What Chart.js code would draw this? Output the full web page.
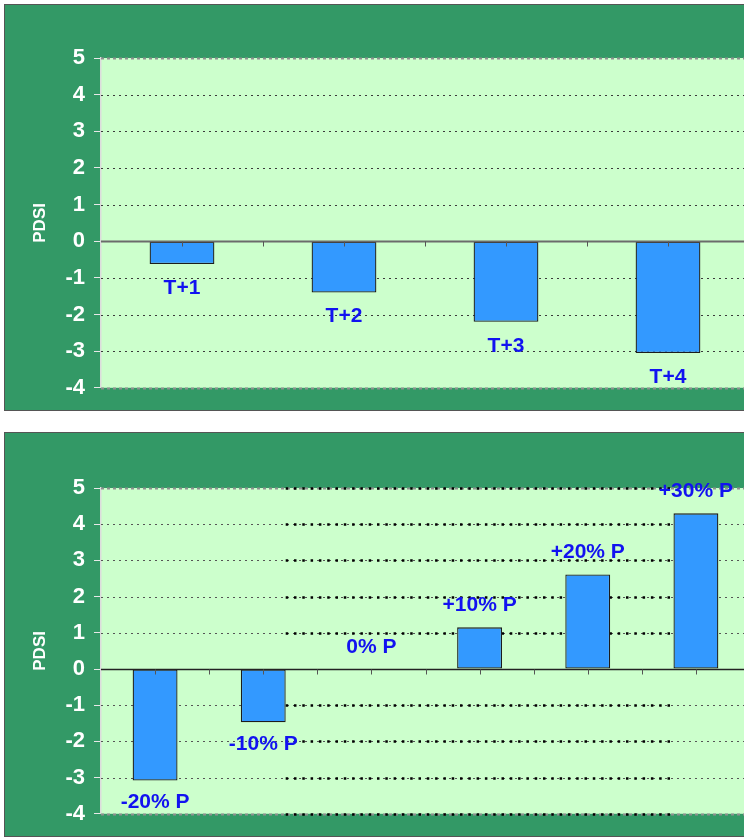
<!DOCTYPE html>
<html>
<head>
<meta charset="utf-8">
<script src="https://cdn.jsdelivr.net/npm/chart.js@4"></script>
<style>
    body { margin: 0; width: 744px; height: 837px; overflow: hidden; background: #fff; }
    .panel { position: absolute; left: 4px; width: 800px; box-sizing: border-box; border: 1px solid #555; background: #339966; }
    #panel1 { top: 4px; height: 407px; }
    #panel2 { top: 432px; height: 405px; }
    .panel canvas { position: absolute; left: 0; top: 0; }
</style>
</head>
<body>
<div class="panel" id="panel1"><canvas id="lagChart" width="760" height="405"></canvas></div>
<div class="panel" id="panel2"><canvas id="precipChart" width="760" height="403"></canvas></div>
<script>
    // --- data ---
    const lagLabels = ['T+1', 'T+2', 'T+3', 'T+4'];
    const lagValues = [-0.62, -1.4, -2.2, -3.05];

    const precipLabels = ['-20% P', '-10% P', '0% P', '+10% P', '+20% P', '+30% P'];
    const precipValues = [-3.08, -1.47, 0, 1.15, 2.61, 4.3];

    const yMin = -4;
    const yMax = 5;
    const yStep = 1;
    const axisTitle = 'PDSI';

    const FONT = "'Liberation Sans', Arial, sans-serif";

    // plot background, dotted grid, zero line, small x ticks and bar captions
    const decor = {
        id: 'decor',
        beforeDraw(chart) {
            const { ctx, chartArea: a } = chart;
            ctx.save();
            ctx.fillStyle = '#ccffcc';
            ctx.fillRect(a.left, a.top, a.right - a.left, a.bottom - a.top);
            ctx.restore();
        },
        beforeDatasetsDraw(chart, args, opts) {
            const { ctx, chartArea: a } = chart;
            const y = chart.scales.y;
            const meta = chart.getDatasetMeta(0);
            ctx.save();
            y.ticks.forEach(t => {
                if (t.value === 0) return;
                const py = Math.round(y.getPixelForValue(t.value)) + 0.5;
                const edge = t.value === yMax || t.value === yMin;
                ctx.beginPath();
                ctx.strokeStyle = edge ? '#8f8f8f' : opts.gridColor;
                ctx.lineWidth = edge ? 2 : 1;
                ctx.setLineDash(edge ? [3, 3] : [2, 4]);
                ctx.moveTo(a.left, py);
                ctx.lineTo(a.right, py);
                ctx.stroke();
                if (opts.heavy) {
                    const b1 = meta.data[opts.heavy[0]];
                    const b2 = meta.data[opts.heavy[1]];
                    ctx.beginPath();
                    ctx.strokeStyle = '#000';
                    ctx.lineWidth = 2.5;
                    ctx.setLineDash([2.5, 5.8]);
                    ctx.moveTo(b1.x + b1.width / 2, py);
                    ctx.lineTo(b2.x - b2.width / 2, py);
                    ctx.stroke();
                }
            });
            ctx.restore();
        },
        afterDatasetsDraw(chart, args, opts) {
            const { ctx, chartArea: a } = chart;
            const x = chart.scales.x;
            const y = chart.scales.y;
            const y0 = Math.round(y.getPixelForValue(0)) + 0.5;

            ctx.save();
            ctx.beginPath();
            ctx.strokeStyle = opts.zeroColor;
            ctx.lineWidth = opts.zeroWidth;
            ctx.moveTo(a.left, y0);
            ctx.lineTo(a.right, y0);
            ctx.stroke();

            // tick marks at category centres and boundaries
            const n = chart.data.labels.length;
            const half = (x.getPixelForValue(1) - x.getPixelForValue(0)) / 2;
            ctx.strokeStyle = '#555';
            ctx.lineWidth = 1;
            for (let i = 0; i < n; i++) {
                const c = x.getPixelForValue(i);
                [c, c + half].forEach(px => {
                    const xx = Math.round(px) + 0.5;
                    ctx.beginPath();
                    ctx.moveTo(xx, y0);
                    ctx.lineTo(xx, y0 + 5);
                    ctx.stroke();
                });
            }

            // captions under negative bars, above the rest
            const ds = chart.data.datasets[0];
            ctx.fillStyle = '#1212f0';
            ctx.font = 'bold 21px ' + FONT;
            ctx.textAlign = 'center';
            ctx.textBaseline = 'middle';
            chart.data.labels.forEach((label, i) => {
                const v = ds.data[i];
                const py = y.getPixelForValue(v);
                const ty = v < 0 ? py + opts.offset : py - opts.offset;
                ctx.fillText(label, x.getPixelForValue(i), ty);
            });
            ctx.restore();
        },
        afterDraw(chart) {
            const { ctx, chartArea: a } = chart;
            ctx.save();
            ctx.translate(35, (a.top + a.bottom) / 2);
            ctx.rotate(-Math.PI / 2);
            ctx.fillStyle = '#fff';
            ctx.font = 'bold 17px ' + FONT;
            ctx.textAlign = 'center';
            ctx.textBaseline = 'middle';
            ctx.fillText(axisTitle, 0, 0);
            ctx.restore();
        }
    };

    function makeChart(canvasId, labels, values, barPct, padding, decorOpts) {
        const ctx = document.getElementById(canvasId);
        return new Chart(ctx, {
            type: 'bar',
            data: {
                labels: labels,
                datasets: [{
                    data: values,
                    backgroundColor: '#3399ff',
                    borderColor: '#1c1c1c',
                    borderWidth: 1.3,
                    borderSkipped: false,
                    categoryPercentage: 1,
                    barPercentage: barPct
                }]
            },
            options: {
                responsive: false,
                animation: false,
                layout: { padding: padding },
                plugins: {
                    legend: { display: false },
                    tooltip: { enabled: false },
                    decor: decorOpts
                },
                scales: {
                    x: { display: false },
                    y: {
                        min: yMin,
                        max: yMax,
                        afterFit: scale => { scale.width = 96; },
                        ticks: {
                            stepSize: yStep,
                            autoSkip: false,
                            color: '#fff',
                            padding: 9,
                            font: { family: FONT, size: 22, weight: 'bold' }
                        },
                        grid: {
                            drawOnChartArea: false,
                            drawTicks: true,
                            tickLength: 7,
                            tickColor: '#e8e8e8'
                        },
                        border: { color: '#dcdcdc', width: 1.5 }
                    }
                }
            },
            plugins: [decor]
        });
    }

    makeChart('lagChart', lagLabels, lagValues, 0.4,
        { left: 0, top: 53, right: 16, bottom: 22 },
        { gridColor: '#3a3a3a', zeroColor: '#6b6b6b', zeroWidth: 2, offset: 24 });

    makeChart('precipChart', precipLabels, precipValues, 0.415,
        { left: 0, top: 55, right: 15, bottom: 20 },
        { gridColor: '#555', zeroColor: '#222', zeroWidth: 1.5, offset: 22, heavy: [1, 5] });
</script>
</body>
</html>
